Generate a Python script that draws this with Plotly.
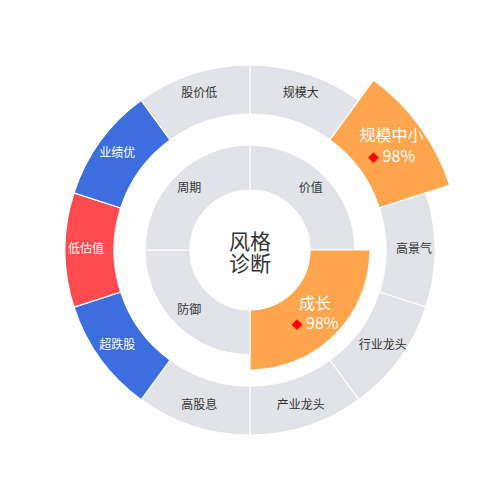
import plotly.graph_objects as go

# ---------------- data ----------------
outer_labels = ["规模大", "规模中小", "高景气", "行业龙头", "产业龙头",
                "高股息", "超跌股", "低估值", "业绩优", "股价低"]
outer_tags = ["none", "top", "none", "none", "none",
              "none", "blue", "red", "blue", "none"]
inner_labels = ["价值", "成长", "防御", "周期"]
inner_tags = ["none", "top", "none", "none"]
top_scores = {"规模中小": 98, "成长": 98}
center_title = ["风格", "诊断"]

# ---------------- style ----------------
GREY = "#E2E3E8"
TAG_COLORS = {"none": GREY, "top": "#FFA54B", "red": "#FF4B4F", "blue": "#3C6EE0"}
FONT = "Noto Sans CJK SC"
OFF = 8  # page body margin compensation (px)
CX = 250 - OFF  # polar centre, figure px from left
CY = 250 - OFF  # polar centre, figure px from top
R_PX = CX       # polar radius in px (1 data unit = 1 px)

def ring(labels, tags, r_in, r_out, r_out_top, r_lab, r_lab_top, big_size, small_size):
    n = len(labels)
    step = 360 / n
    thetas = [step * (i + 0.5) for i in range(n)]
    tops = [r_out_top if t == "top" else r_out for t in tags]
    bar = go.Barpolar(
        theta=thetas, width=[step] * n,
        base=[r_in] * n, r=[o - r_in for o in tops],
        marker=dict(color=[TAG_COLORS[t] for t in tags],
                    line=dict(color="white", width=1.2)),
        hoverinfo="skip", showlegend=False,
    )
    texts, colors, sizes, rs = [], [], [], []
    for lab, t in zip(labels, tags):
        if t == "top":
            texts.append(f"{lab}<br><span style='color:#FF0000;font-size:11px'>◆</span> {top_scores[lab]}%")
            colors.append("white")
            sizes.append(big_size)
            rs.append(r_lab_top)
        else:
            texts.append(lab)
            colors.append("#333333" if t == "none" else "white")
            sizes.append(small_size)
            rs.append(r_lab)
    txt = go.Scatterpolar(
        r=rs, theta=thetas, mode="text", text=texts,
        textfont=dict(family=FONT, color=colors, size=sizes),
        textposition="middle center", hoverinfo="skip", showlegend=False,
        cliponaxis=False,
    )
    return bar, txt

ob, ot = ring(outer_labels, outer_tags, 136, 185, 210, 164, 175, 16, 12)
ib, it = ring(inner_labels, inner_tags, 60, 105, 120, 86, 92, 16, 12)

fig = go.Figure([ob, ib, ot, it])
fig.update_layout(
    width=500, height=500,
    margin=dict(l=0, r=0, t=0, b=0),
    paper_bgcolor="white", plot_bgcolor="white",
    polar=dict(
        domain=dict(x=[0, 2 * CX / 500], y=[1 - 2 * CY / 500, 1]),
        bgcolor="white",
        radialaxis=dict(range=[0, R_PX], visible=False),
        angularaxis=dict(rotation=90, direction="clockwise", visible=False),
        barmode="overlay",
    ),
    annotations=[
        dict(text=center_title[0], x=CX / 500, y=1 - (CY - 10.5) / 500, xref="paper", yref="paper",
             xanchor="center", yanchor="middle",
             showarrow=False, font=dict(family=FONT, size=21, color="#333333")),
        dict(text=center_title[1], x=CX / 500, y=1 - (CY + 11.5) / 500, xref="paper", yref="paper",
             xanchor="center", yanchor="middle",
             showarrow=False, font=dict(family=FONT, size=21, color="#333333")),
    ],
)
fig.write_html("out.html")
